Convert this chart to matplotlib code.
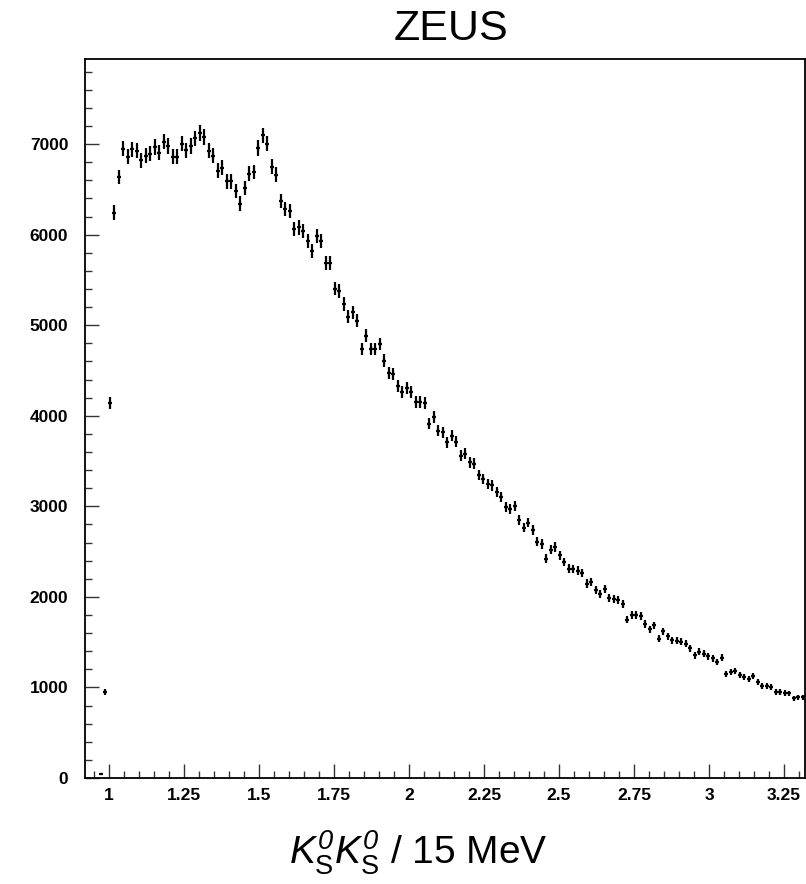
import numpy as np
import matplotlib
matplotlib.use('Agg')
import matplotlib.pyplot as plt
from matplotlib.ticker import MultipleLocator, FixedLocator

# bin layout: 15 MeV bins, first filled bin centre
bin_width = 0.015
first_centre = 0.9725

# counts per bin, left to right
counts_threshold = [40, 950, 4140]
counts_peaks = [6244, 6637, 6950, 6858, 6943, 6924, 6821, 6869, 6894, 6968,
                6905, 7026, 6979, 6858, 6858, 7004, 6931, 6979, 7063, 7122,
                7078, 6924, 6869, 6708, 6740, 6588, 6588, 6483, 6343, 6513,
                6674, 6692, 6957, 7097, 7004, 6750, 6660]
counts_fall = [6373, 6281, 6262, 6061, 6079, 6042, 5932, 5821, 5987, 5932,
               5690, 5690, 5405, 5377,
               5234, 5094, 5141, 5050, 4738, 4884, 4738, 4738, 4793, 4609,
               4469, 4462, 4333, 4260, 4308, 4260, 4150, 4150, 4138]
counts_mid = [3911, 3984, 3837, 3818, 3708, 3782, 3715, 3561, 3580, 3487,
              3472, 3347, 3304, 3249, 3230, 3157, 3102, 2991, 2973, 2999,
              2852, 2765, 2820, 2738, 2610, 2584, 2422, 2521, 2550, 2459,
              2385, 2312, 2308, 2290]
counts_tail = [2264, 2146, 2164, 2073, 2029, 2084, 1990, 1979, 1968, 1924,
               1748, 1797, 1797, 1786, 1698, 1640, 1687, 1540, 1621, 1566,
               1521, 1514, 1503, 1485, 1430, 1356, 1393, 1374, 1345, 1320,
               1283, 1329, 1147, 1172, 1183, 1136, 1110, 1088, 1125, 1062,
               1014, 1014, 1007, 951, 951, 940, 934, 879, 890, 890]

xtick_vals = [1, 1.25, 1.5, 1.75, 2, 2.25, 2.5, 2.75, 3, 3.25]
xtick_labels = ['1', '1.25', '1.5', '1.75', '2', '2.25', '2.5', '2.75', '3', '3.25']
ytick_vals = [0, 1000, 2000, 3000, 4000, 5000, 6000, 7000]

counts = np.array(counts_threshold + counts_peaks + counts_fall + counts_mid + counts_tail, dtype=float)
centres = first_centre + bin_width * np.arange(len(counts))
errors = np.sqrt(counts)

plt.rcParams['font.family'] = ['Liberation Sans', 'DejaVu Sans']
plt.rcParams['mathtext.fontset'] = 'custom'
plt.rcParams['mathtext.rm'] = 'Liberation Sans'
plt.rcParams['mathtext.it'] = 'Liberation Sans:italic'
plt.rcParams['mathtext.sf'] = 'Liberation Sans:italic'

fig = plt.figure(figsize=(8.06, 8.84), dpi=100)
ax = fig.add_axes([85 / 806, 1 - 778 / 884, 720 / 806, (778 - 58.5) / 884])

ax.errorbar(centres, counts, yerr=errors, xerr=0.0065, fmt='none',
            ecolor='black', elinewidth=1.6, capsize=0)

ax.set_xlim(0.92, 3.32)
ax.set_ylim(0, 7945)

ax.xaxis.set_major_locator(FixedLocator(xtick_vals))
ax.set_xticklabels(xtick_labels)
ax.xaxis.set_minor_locator(MultipleLocator(0.05))
ax.yaxis.set_major_locator(FixedLocator(ytick_vals))
ax.yaxis.set_minor_locator(MultipleLocator(200))

ax.tick_params(which='both', direction='in', top=False, right=False, width=1, color='#333333')
ax.tick_params(which='major', length=10)
ax.tick_params(which='minor', length=5)
ax.tick_params(axis='y', which='major', pad=12, labelsize=12.5)
ax.tick_params(axis='x', which='major', pad=7, labelsize=12.5)
for lab in ax.get_xticklabels() + ax.get_yticklabels():
    lab.set_fontweight('bold')

for sp in ax.spines.values():
    sp.set_linewidth(1.3)

fig.text(451 / 806, 1 - 29 / 884, 'ZEUS', ha='center', va='center', fontsize=31)
fig.text(418 / 806, 1 - 853 / 884,
         r'$\mathit{K}^{\mathsf{0}}_{\mathrm{S}}\mathit{K}^{\mathsf{0}}_{\mathrm{S}}$ / 15 MeV',
         ha='center', va='center', fontsize=28)

fig.savefig('out.png', dpi=100)
